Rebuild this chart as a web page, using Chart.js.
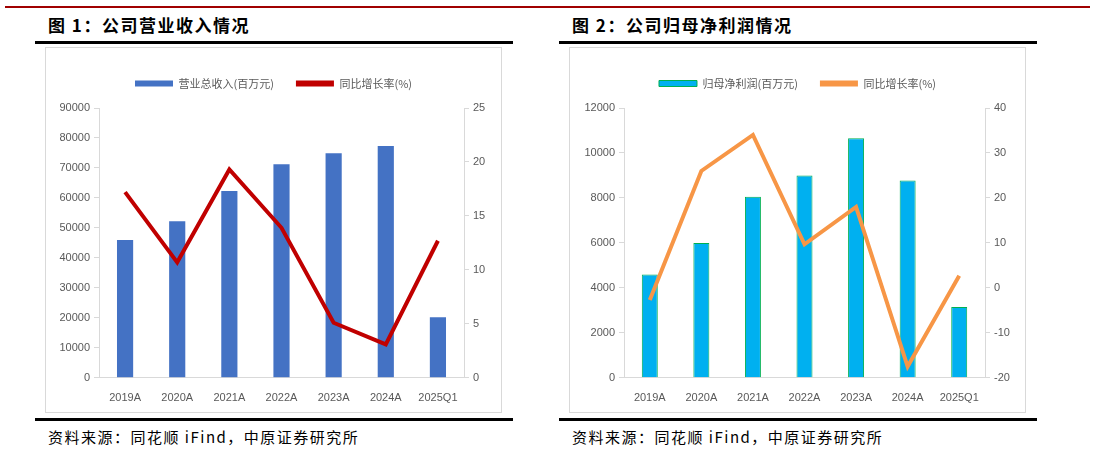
<!DOCTYPE html>
<html><head><meta charset="utf-8">
<script src="https://cdn.jsdelivr.net/npm/chart.js@4"></script>
<style>
body{margin:0;width:1094px;height:451px;background:#fff;position:relative;overflow:hidden;font-family:"Noto Sans CJK SC",sans-serif}
.red{position:absolute;left:5px;width:1085px;top:6px;height:2px;background:#a00000}
.title{position:absolute;top:12px;font-size:17px;font-weight:bold;color:#000;letter-spacing:1.5px}
.bl{position:absolute;height:3px;background:#000}
.box{position:absolute;top:47px;width:455px;height:364px;border:1px solid #d9d9d9}
.src{position:absolute;top:426px;font-size:15px;color:#000;letter-spacing:1.5px}
canvas{position:absolute;left:0;top:0}
</style></head><body>
<div class="red"></div>
<div class="title" style="left:48px">图 1：公司营业收入情况</div>
<div class="title" style="left:572px">图 2：公司归母净利润情况</div>
<div class="bl" style="left:35px;width:478px;top:41px"></div>
<div class="bl" style="left:559px;width:478px;top:41px"></div>
<div class="box" style="left:45px"><canvas id="c1" width="455" height="364"></canvas></div>
<div class="box" style="left:569px"><canvas id="c2" width="455" height="364"></canvas></div>
<div class="bl" style="left:35px;width:478px;top:418px"></div>
<div class="bl" style="left:559px;width:478px;top:418px"></div>
<div class="src" style="left:48px">资料来源：同花顺 iFind，中原证券研究所</div>
<div class="src" style="left:572px">资料来源：同花顺 iFind，中原证券研究所</div>
<script>
const categories=["2019A","2020A","2021A","2022A","2023A","2024A","2025Q1"];
const revenue=[46000,52200,62300,71200,74900,77300,20200];
const revenueGrowth=[17.2,10.7,19.3,13.9,5.1,3.1,12.7];
const profit=[4600,6000,8050,9000,10650,8780,3150];
const profitGrowth=[-2.7,26,34,9.7,18,-17.5,2.7];
const leftTicks1=[0,90000,10000], rightTicks1=[0,25,5];
const leftTicks2=[0,12000,2000], rightTicks2=[-20,40,10];

function make(id,barLabel,bars,barColor,barBorder,lineLabel,line,lineColor,lt,rt,lw,rw){
  const tf={size:11,family:"Liberation Sans, Arial"};
  const ax=(t,w,pos)=>({position:pos,min:t[0],max:t[1],ticks:{stepSize:t[2],color:'#595959',font:tf,padding:4,callback:v=>String(v)},
    grid:{drawOnChartArea:false,drawTicks:true,tickLength:5,color:'#d9d9d9'},border:{color:'#d9d9d9'},
    afterFit:s=>{s.width=w;}});
  new Chart(document.getElementById(id),{
    data:{labels:categories,datasets:[
      {type:'bar',label:barLabel,data:bars,backgroundColor:barColor,borderColor:barBorder,borderWidth:barBorder?1:0,yAxisID:'y',barPercentage:0.31,categoryPercentage:1,order:2},
      {type:'line',label:lineLabel,data:line,borderColor:lineColor,backgroundColor:lineColor,borderWidth:4,pointRadius:0,tension:0,yAxisID:'y1',order:1}
    ]},
    options:{responsive:false,animation:false,
      layout:{padding:{top:8,bottom:1,left:0,right:0}},
      plugins:{legend:{labels:{boxWidth:38,boxHeight:6,color:'#595959',font:{size:11,family:"Noto Sans CJK SC"},padding:22,
        sort:(a,b)=>a.datasetIndex-b.datasetIndex,
        generateLabels:c=>Chart.defaults.plugins.legend.labels.generateLabels(c).map(l=>{l.lineWidth=l.datasetIndex==0&&barBorder?1:0;l.strokeStyle=barBorder||barColor;l.fillStyle=c.data.datasets[l.datasetIndex].type=='bar'?barColor:lineColor;return l;})},
        onClick:null},tooltip:{enabled:false}},
      scales:{x:{ticks:{color:'#595959',font:tf,padding:6},grid:{display:false},border:{color:'#d9d9d9'}},
        y:ax(lt,lw,'left'),y1:ax(rt,rw,'right')}
    },
    plugins:[{id:'lp',beforeInit(c){const f=c.legend.fit;c.legend.fit=function(){f.call(this);this.height=52;};}}]
  });
}
make('c1','营业总收入(百万元)',revenue,'#4472c4',null,'同比增长率(%)',revenueGrowth,'#c00000',leftTicks1,rightTicks1,53,37);
make('c2','归母净利润(百万元)',profit,'#00b0f0','#00b050','同比增长率(%)',profitGrowth,'#f79646',leftTicks2,rightTicks2,54,40);
</script></body></html>
